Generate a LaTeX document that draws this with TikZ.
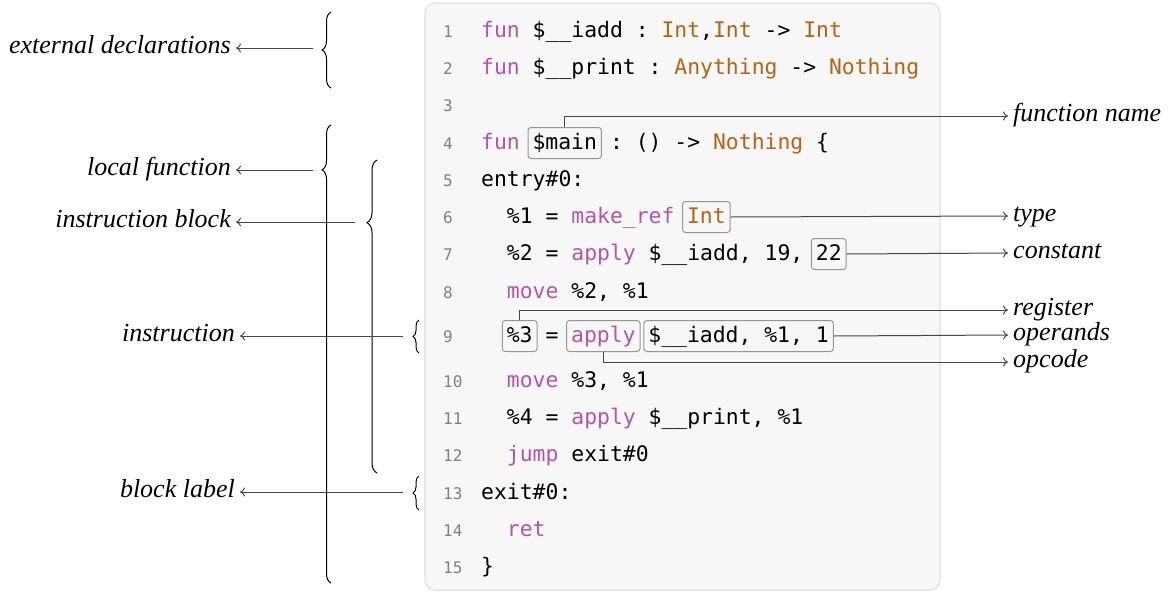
\documentclass[tikz,border=0pt]{standalone}
\usepackage{fontspec}
\setmainfont{Liberation Serif}
\setmonofont{DejaVu Sans Mono}
\usetikzlibrary{arrows.meta, decorations.pathreplacing, positioning}

\definecolor{kwcol}{RGB}{180,84,176}
\definecolor{tycol}{RGB}{184,98,20}
\definecolor{numcol}{RGB}{128,128,128}
\definecolor{panelcol}{RGB}{247,247,247}
\definecolor{framecol}{RGB}{228,228,228}
\definecolor{boxcol}{RGB}{150,150,150}
\definecolor{linkcol}{RGB}{70,70,70}
\newcommand{\kw}[1]{\textcolor{kwcol}{#1}}
\newcommand{\ty}[1]{\textcolor{tycol}{#1}}
\newcommand{\chw}{12.88}

\tikzset{
  code/.style={anchor=base west, inner sep=0pt, font=\fontsize{21.4}{25}\selectfont\ttfamily},
  lnum/.style={anchor=base west, inner sep=0pt, text=numcol, font=\fontsize{16}{19}\selectfont\ttfamily},
  hl/.style={anchor=base, draw=boxcol, line width=1pt, rounded corners=3pt,
    inner xsep=4.5pt, inner ysep=5pt, text height=17pt, text depth=4pt,
    font=\fontsize{21.4}{25}\selectfont\ttfamily},
  lbl/.style={font=\fontsize{26}{30}\selectfont\itshape, text height=17pt, text depth=6pt, inner xsep=5pt},
  curly/.style={decorate, line width=1pt, decoration={brace, amplitude=#1}},
  curly/.default=9pt,
  link/.style={-{To[length=5pt, width=9pt]}, draw=linkcol, line width=1pt},
}

\begin{document}
\begin{tikzpicture}[x=1pt, y=-1pt]
  \useasboundingbox (0,0) rectangle (1171,592);
  \draw[fill=panelcol, draw=framecol, line width=1.5pt, rounded corners=10pt] (425,3) rectangle (940,590);

  % line numbers
  \foreach \n/\y in {1/37.5, 2/74.5, 3/111.5, 4/149.5, 5/186.5, 6/223.5, 7/260.5, 8/298.5,
                     9/342.5, 10/387.5, 11/424.5, 12/461.5, 13/499.5, 14/536.5, 15/573.5}
    \node[lnum] (n\n) at (443,\y) {\n};

  % code
  \node[code] (c1) at (481,37.5) {\kw{fun} \$\_\_iadd : \ty{Int},\ty{Int} -> \ty{Int}};
  \node[code] (c2) at (481,74.5) {\kw{fun} \$\_\_print : \ty{Anything} -> \ty{Nothing}};
  \node[code] (c4) at (481,149.5) {\kw{fun} \phantom{\$main} : () -> \ty{Nothing} \{};
  \node[code] (c5) at (481,186.5) {entry\#0:};
  \node[code] (c6) at ({481+2*\chw},223.5) {\%1 = \kw{make\_ref}};
  \node[code] (c7) at ({481+2*\chw},260.5) {\%2 = \kw{apply} \$\_\_iadd, 19,};
  \node[code] (c8) at ({481+2*\chw},298.5) {\kw{move} \%2, \%1};
  \node[code] (c9) at ({481+5*\chw},342.5) {=};
  \node[code] (c10) at ({481+2*\chw},387.5) {\kw{move} \%3, \%1};
  \node[code] (c11) at ({481+2*\chw},424.5) {\%4 = \kw{apply} \$\_\_print, \%1};
  \node[code] (c12) at ({481+2*\chw},461.5) {\kw{jump} exit\#0};
  \node[code] (c13) at (481,499.5) {exit\#0:};
  \node[code] (c14) at ({481+2*\chw},536.5) {\kw{ret}};
  \node[code] (c15) at (481,573.5) {\}};

  % highlighted parts
  \node[hl] (fname) at ({481+6.5*\chw},149.5) {\$main};
  \node[hl] (tybox) at ({481+17.5*\chw},223.5) {\ty{Int}};
  \node[hl] (cst) at ({481+27*\chw},260.5) {22};
  \node[hl] (reg) at ({481+3*\chw},342.5) {\%3};
  \node[hl] (opc) at ({481+9.5*\chw},342.5) {\kw{apply}};
  \node[hl] (opnd) at ({481+20*\chw},342.5) {\$\_\_iadd, \%1, 1};

  % labels on the right
  \node[lbl, anchor=west] (fnlbl) at (1008,116) {function name};
  \node[lbl, anchor=west] (tylbl) at (1008,216) {type};
  \node[lbl, anchor=west] (cstlbl) at (1008,253) {constant};
  \node[lbl, anchor=west] (reglbl) at (1008,310) {register};
  \node[lbl, anchor=west] (opndlbl) at (1008,335) {operands};
  \node[lbl, anchor=west] (opclbl) at (1008,362) {opcode};

  \draw[link] (fname.north) |- (fnlbl.west);
  \draw[link] (tybox.east) -- (tylbl.west);
  \draw[link] (cst.east) -- (cstlbl.west);
  \draw[link] (reg.north) |- (reglbl.west);
  \draw[link] (opnd.east) -- (opndlbl.west);
  \draw[link] (opc.south) |- (opclbl.west);

  % braces on the left
  \draw[curly] (331,88) -- (331,12);
  \draw[curly, decoration={aspect=0.902}] (331,583) -- (331,125);
  \draw[curly=10pt, decoration={aspect=0.80}] (377,473) -- (377,160);
  \draw[curly=6pt] (419,353) -- (419,320);
  \draw[curly=6pt] (419,510) -- (419,476);

  \coordinate (extb) at (313,48);
  \coordinate (locb) at (313,170);
  \coordinate (blkb) at (355,222);
  \coordinate (insb) at (403,336);
  \coordinate (labb) at (403,492);

  \node[lbl, anchor=east] (extlbl) at (236,48) {external declarations};
  \node[lbl, anchor=east] (loclbl) at (236,170) {local function};
  \node[lbl, anchor=east] (blklbl) at (236,222) {instruction block};
  \node[lbl, anchor=east] (inslbl) at (240,336) {instruction};
  \node[lbl, anchor=east] (lablbl) at (240,492) {block label};

  \draw[link] (extb) -- (extlbl.east);
  \draw[link] (locb) -- (loclbl.east);
  \draw[link] (blkb) -- (blklbl.east);
  \draw[link] (insb) -- (inslbl.east);
  \draw[link] (labb) -- (lablbl.east);
\end{tikzpicture}
\end{document}
